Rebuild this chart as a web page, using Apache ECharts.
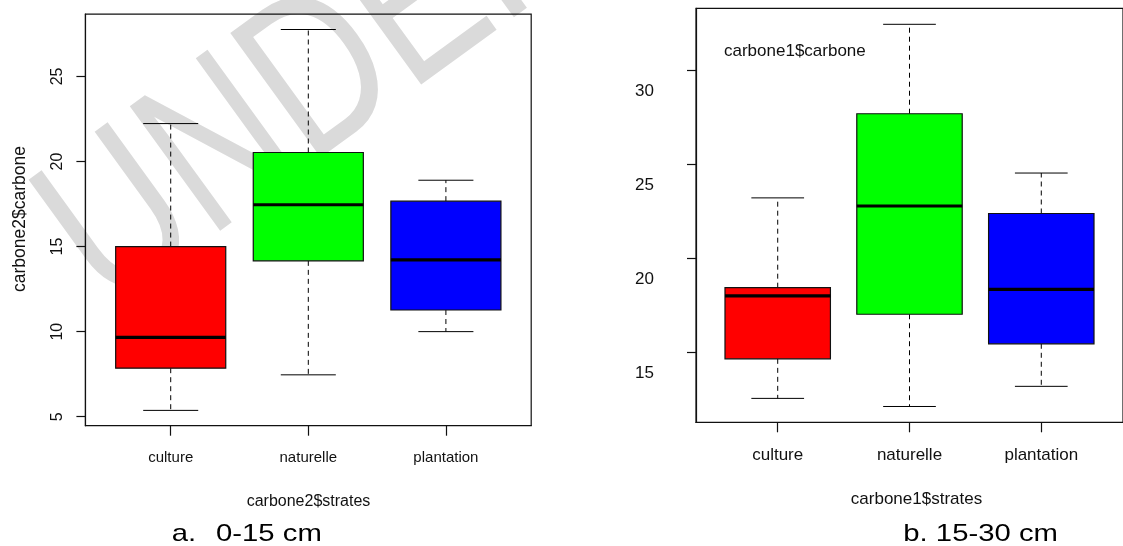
<!DOCTYPE html>
<html>
<head>
<meta charset="utf-8">
<script src="https://cdn.jsdelivr.net/npm/echarts@6/dist/echarts.min.js"></script>
<style>
html,body{margin:0;padding:0;background:#fff;}
#c{width:1123px;height:546px;}
</style>
</head>
<body>
<div id="c"></div>
<script>
// categories
const categories = ['culture', 'naturelle', 'plantation'];
// box stats: [lower whisker, Q1, median, Q3, upper whisker]
const statsA = [
  [5.37, 7.85, 9.66, 15.0, 22.23],
  [7.46, 14.16, 17.46, 20.53, 27.76],
  [10.0, 11.27, 14.22, 17.67, 18.9]
];
const statsB = [
  [12.57, 14.67, 18.02, 18.45, 23.22],
  [12.14, 17.04, 22.79, 27.69, 32.44],
  [13.21, 15.47, 18.36, 22.39, 24.54]
];
const boxColors = ['#ff0000', '#00ff00', '#0000ff'];
const yTicksA = [5, 10, 15, 20, 25];
const yTicksB = [15, 20, 25, 30];
const xTicks = [1, 2, 3];

const FONT = "'Liberation Sans', Arial, sans-serif";

function toData(stats) {
  return stats.map((s, i) => [i + 1, s[0], s[1], s[2], s[3], s[4]]);
}

function renderBox(params, api) {
  const x = api.value(0);
  const lo = api.value(1), q1 = api.value(2), md = api.value(3), q3 = api.value(4), hi = api.value(5);
  const halfW = api.size([0.4, 0])[0];
  const capW = api.size([0.2, 0])[0];
  const pLo = api.coord([x, lo]), pQ1 = api.coord([x, q1]), pMd = api.coord([x, md]);
  const pQ3 = api.coord([x, q3]), pHi = api.coord([x, hi]);
  const cx = pMd[0];
  const dashStyle = { stroke: '#000', lineWidth: 1, lineDash: [5, 4] };
  const solid = { stroke: '#000', lineWidth: 1 };
  return {
    type: 'group',
    children: [
      { type: 'line', shape: { x1: cx, y1: pQ3[1], x2: cx, y2: pHi[1] }, style: dashStyle },
      { type: 'line', shape: { x1: cx, y1: pQ1[1], x2: cx, y2: pLo[1] }, style: dashStyle },
      { type: 'line', shape: { x1: cx - capW, y1: pHi[1], x2: cx + capW, y2: pHi[1] }, style: solid },
      { type: 'line', shape: { x1: cx - capW, y1: pLo[1], x2: cx + capW, y2: pLo[1] }, style: solid },
      { type: 'rect', shape: { x: cx - halfW, y: pQ3[1], width: 2 * halfW, height: pQ1[1] - pQ3[1] },
        style: { fill: boxColors[params.dataIndex], stroke: '#111', lineWidth: 1.2 } },
      { type: 'line', shape: { x1: cx - halfW, y1: pMd[1], x2: cx + halfW, y2: pMd[1] },
        style: { stroke: '#000', lineWidth: 3.2 } }
    ]
  };
}

function xAxisCfg(gridIndex, fs) {
  return {
    type: 'value', gridIndex: gridIndex, min: 0.38, max: 3.62,
    splitLine: { show: false },
    axisLine: { show: true, onZero: false, lineStyle: { color: '#111', width: 1.2 } },
    axisTick: { show: true, customValues: xTicks, length: 10, lineStyle: { color: '#111', width: 1.2 } },
    axisLabel: { show: true, customValues: xTicks, margin: 25, fontSize: fs, fontFamily: FONT, color: '#111',
      formatter: v => categories[Math.round(v) - 1] }
  };
}

const chart = echarts.init(document.getElementById('c'));
chart.setOption({
  animation: false,
  backgroundColor: '#fff',
  grid: [
    { left: 85.4, top: 14.2, right: 591.8, bottom: 120.3, show: true, borderColor: '#111', borderWidth: 1.2, backgroundColor: 'transparent' },
    { left: 696, top: 8.3, right: -8.5, bottom: 123.7, show: true, borderColor: '#111', borderWidth: 1.2, backgroundColor: 'transparent' }
  ],
  xAxis: [xAxisCfg(0, 15), xAxisCfg(1, 17)],
  yAxis: [
    {
      type: 'value', gridIndex: 0, min: 4.47, max: 28.66,
      splitLine: { show: false },
      axisLine: { show: true, onZero: false, lineStyle: { color: '#111', width: 1.2 } },
      axisTick: { show: true, customValues: yTicksA, length: 9, lineStyle: { color: '#111', width: 1.2 } },
      axisLabel: { show: true, customValues: yTicksA, rotate: 90, margin: 20, fontSize: 16, fontFamily: FONT, color: '#111' }
    },
    {
      type: 'value', gridIndex: 1, min: 11.30, max: 33.29,
      splitLine: { show: false },
      axisLine: { show: true, onZero: false, lineStyle: { color: '#111', width: 1.2 } },
      axisTick: { show: true, customValues: yTicksB, length: 9, lineStyle: { color: '#111', width: 1.2 } },
      axisLabel: { show: true, customValues: yTicksB, margin: 42, lineHeight: 42, fontSize: 17, fontFamily: FONT, color: '#111',
        formatter: v => '\n' + v }
    }
  ],
  series: [
    { type: 'custom', xAxisIndex: 0, yAxisIndex: 0, renderItem: renderBox, data: toData(statsA),
      encode: { x: 0, y: [1, 2, 3, 4, 5] } },
    { type: 'custom', xAxisIndex: 1, yAxisIndex: 1, renderItem: renderBox, data: toData(statsB),
      encode: { x: 0, y: [1, 2, 3, 4, 5] } }
  ],
  graphic: [
    { type: 'text', x: 72, y: 262, rotation: 36 * Math.PI / 180, scaleY: 1.3, z: -10, silent: true,
      style: { text: 'UNDER', fontSize: 172, fontFamily: FONT, fill: '#dadada', align: 'left', verticalAlign: 'middle' } },
    { type: 'text', x: 19.7, y: 219, rotation: Math.PI / 2,
      style: { text: 'carbone2$carbone', fontSize: 17.5, fontFamily: FONT, fill: '#111', align: 'center', verticalAlign: 'middle' } },
    { type: 'text', x: 308.5, y: 501.5,
      style: { text: 'carbone2$strates', fontSize: 16, fontFamily: FONT, fill: '#111', align: 'center', verticalAlign: 'middle' } },
    { type: 'text', x: 916.5, y: 499.5,
      style: { text: 'carbone1$strates', fontSize: 17, fontFamily: FONT, fill: '#111', align: 'center', verticalAlign: 'middle' } },
    { type: 'text', x: 724, y: 51.5,
      style: { text: 'carbone1$carbone', fontSize: 17, fontFamily: FONT, fill: '#111', align: 'left', verticalAlign: 'middle' } },
    { type: 'text', x: 171.7, y: 534, scaleX: 1.22,
      style: { text: 'a.', fontSize: 24, fontFamily: FONT, fill: '#000', align: 'left', verticalAlign: 'middle' } },
    { type: 'text', x: 216, y: 534, scaleX: 1.22,
      style: { text: '0-15 cm', fontSize: 24, fontFamily: FONT, fill: '#000', align: 'left', verticalAlign: 'middle' } },
    { type: 'text', x: 903.3, y: 534, scaleX: 1.22,
      style: { text: 'b. 15-30 cm', fontSize: 24, fontFamily: FONT, fill: '#000', align: 'left', verticalAlign: 'middle' } }
  ]
});
</script>
</body>
</html>
